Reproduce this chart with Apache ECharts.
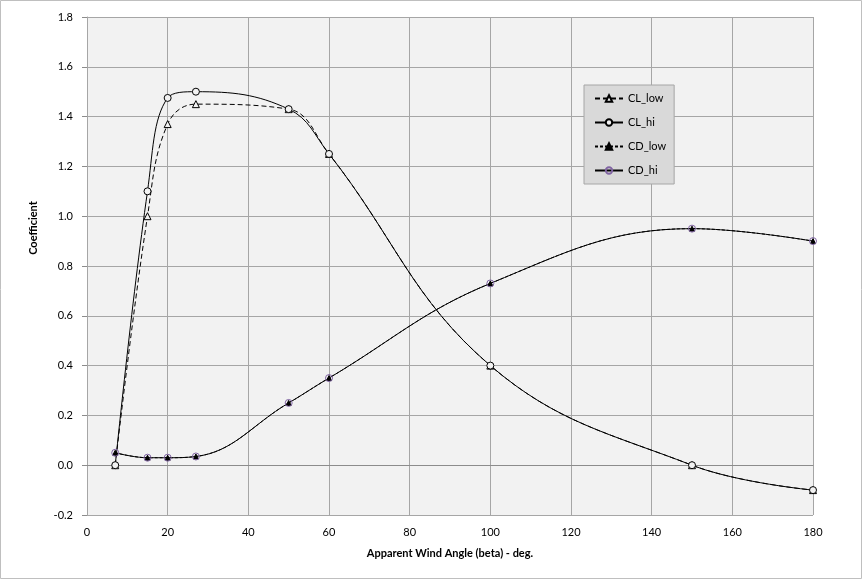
<!DOCTYPE html>
<html><head><meta charset="utf-8">
<script src="https://cdn.jsdelivr.net/npm/echarts@6/dist/echarts.min.js"></script>
<style>html,body{margin:0;padding:0;background:#fff}#c{width:863px;height:580px}</style>
</head><body><div id="c"></div>
<script>
const angles = [7, 15, 20, 27, 50, 60, 100, 150, 180];
const clLow = [0, 1.0, 1.37, 1.45, 1.43, 1.25, 0.40, 0.0, -0.1];
const clHi = [0, 1.10, 1.475, 1.50, 1.43, 1.25, 0.40, 0.0, -0.1];
const cdLow = [0.05, 0.03, 0.03, 0.035, 0.25, 0.35, 0.73, 0.95, 0.90];
const cdHi = [0.05, 0.03, 0.03, 0.035, 0.25, 0.35, 0.73, 0.95, 0.90];
const xTicks = [0, 20, 40, 60, 80, 100, 120, 140, 160, 180];
const yTicks = [-0.2, 0, 0.2, 0.4, 0.6, 0.8, 1.0, 1.2, 1.4, 1.6, 1.8];

const font = 'Lato';
const pair = (ys) => angles.map((x, i) => [x, ys[i]]);
const chart = echarts.init(document.getElementById('c'), null, {renderer: 'canvas'});
chart.setOption({
  animation: false,
  backgroundColor: '#ffffff',
  textStyle: {fontFamily: font},
  graphic: [
    {type: 'rect', shape: {x: 0.5, y: 0.5, width: 861, height: 578}, style: {fill: 'none', stroke: '#bfbfbf', lineWidth: 1}, z: -1},
    {type: 'text', x: 33, y: 228, rotation: Math.PI / 2, style: {text: 'Coefficient', font: 'bold 11px ' + font, fill: '#000', align: 'center', verticalAlign: 'middle'}}
  ],
  grid: {left: 87, right: 50, top: 17, bottom: 65, show: true, backgroundColor: '#f2f2f2', borderWidth: 0},
  legend: {
    orient: 'vertical', left: 584, top: 85, padding: [8, 8, 8, 10], itemGap: 13,
    itemWidth: 28, itemHeight: 8,
    backgroundColor: '#d9d9d9', borderColor: '#a6a6a6', borderWidth: 1,
    textStyle: {fontFamily: font, fontSize: 11, color: '#000'},
    data: ['CL_low', 'CL_hi', 'CD_low', 'CD_hi']
  },
  xAxis: {
    type: 'value', min: 0, max: 180, interval: 20,
    name: 'Apparent Wind Angle (beta) - deg.', nameLocation: 'middle', nameGap: 33,
    nameTextStyle: {fontWeight: 'bold', fontSize: 11, color: '#000', fontFamily: font},
    axisLine: {show: true, lineStyle: {color: '#8c8c8c'}},
    axisTick: {show: false},
    axisLabel: {fontSize: 11, color: '#000', margin: 12, formatter: v => xTicks.includes(v) ? String(v) : ''},
    splitLine: {show: true, lineStyle: {color: '#a6a6a6', width: 1}}
  },
  yAxis: {
    type: 'value', min: -0.2, max: 1.8, interval: 0.2,
    axisLine: {show: true, lineStyle: {color: '#a6a6a6'}},
    axisTick: {show: true, length: 5, inside: false, lineStyle: {color: '#8c8c8c'}},
    axisLabel: {fontSize: 11, color: '#000', margin: 14, formatter: v => (Math.abs(v) < 1e-9 ? 0 : v).toFixed(1)},
    splitLine: {show: true, lineStyle: {color: '#a6a6a6', width: 1}}
  },
  series: [
    {name: 'CL_low', type: 'line', data: pair(clLow), smooth: 0.4, symbol: 'triangle', symbolSize: 7,
      lineStyle: {color: '#000', width: 1, type: [5, 3]}, itemStyle: {color: '#f2f2f2', borderColor: '#000', borderWidth: 1}},
    {name: 'CL_hi', type: 'line', data: pair(clHi), smooth: 0.4, symbol: 'circle', symbolSize: 7,
      lineStyle: {color: '#000', width: 1}, itemStyle: {color: '#f2f2f2', borderColor: '#000', borderWidth: 1}},
    {name: 'CD_low', type: 'line', data: pair(cdLow), smooth: 0.4, symbol: 'triangle', symbolSize: 5,
      lineStyle: {color: '#000', width: 1, type: [3, 2]}, itemStyle: {color: '#000', borderColor: '#000', borderWidth: 1}},
    {name: 'CD_hi', type: 'line', data: pair(cdHi), smooth: 0.4, symbol: 'circle', symbolSize: 7,
      lineStyle: {color: '#000', width: 1}, itemStyle: {color: 'rgba(0,0,0,0)', borderColor: '#8064a2', borderWidth: 1}}
  ]
});
</script></body></html>
